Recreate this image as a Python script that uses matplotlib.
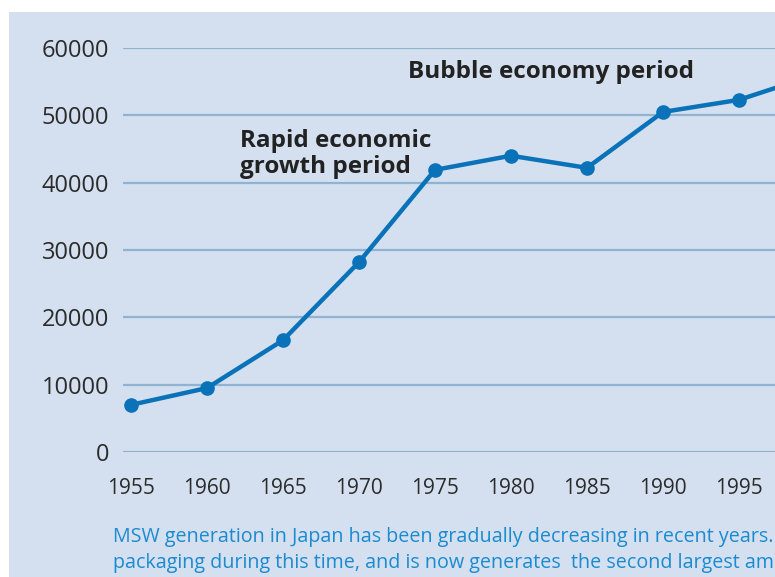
# ____________________________________________________________
# import modules

import matplotlib.pyplot as plt
from matplotlib.patches import Rectangle


# ____________________________________________________________
# data

years = [1955, 1960, 1965, 1970, 1975, 1980, 1985, 1990, 1995, 2000]
msw = [7000, 9500, 16600, 28200, 41900, 44000, 42200, 50500, 52300, 56000]
yticks = [0, 10000, 20000, 30000, 40000, 50000, 60000]
xticks = [1955, 1960, 1965, 1970, 1975, 1980, 1985, 1990, 1995]

caption = ["MSW generation in Japan has been gradually decreasing in recent years.",
           "packaging during this time, and is now generates  the second largest amount"]

BG = '#d4e0ef'
LINE = '#0a72b8'
GRID = '#8fb3d0'
TXT = '#2b2b2b'


# ____________________________________________________________
# figure

plt.rcParams['font.family'] = ['Open Sans', 'DejaVu Sans']

fig = plt.figure(figsize=(7.75, 5.77), dpi=100)
fig.patch.set_facecolor('white')
fig.patches.append(Rectangle((9 / 775, 0), 1, 1 - 12 / 577, transform=fig.transFigure,
                             facecolor=BG, edgecolor='none', zorder=-10))

# axes: left edge at x=123px, right edge at figure edge, y from 452px (0) to 48px (60000)
ax = fig.add_axes([123 / 775, 1 - 452 / 577, 1 - 123 / 775, (452 - 48) / 577])
ax.set_facecolor('none')
px_per_year = (739 - 131) / 40
ax.set_xlim(1955 - 8 / px_per_year, 1955 + (775 - 131) / px_per_year)
ax.set_ylim(0, 60000)

for v in yticks:
    ax.axhline(v, color=GRID, lw=1.6, zorder=1)

ax.plot(years, msw, color=LINE, lw=3.2, marker='o', ms=9.5, zorder=3, clip_on=False)

for s in ax.spines.values():
    s.set_visible(False)
ax.set_yticks(yticks)
ax.set_yticklabels([str(v) for v in yticks])
ax.set_xticks(xticks)
ax.set_xticklabels([str(v) for v in xticks])
ax.tick_params(axis='y', length=0, pad=10, labelsize=17, labelcolor=TXT)
ax.tick_params(axis='x', length=0, pad=19, labelsize=15, labelcolor=TXT)


# ____________________________________________________________
# annotations

ax.text(1973.2, 56400, 'Bubble economy period', fontsize=17.5, fontweight='bold',
        color='#222222', va='center', ha='left')
ax.text(1962.2, 44300, 'Rapid economic\ngrowth period', fontsize=17.5, fontweight='bold',
        color='#222222', va='center', ha='left', linespacing=1.1)

fig.text(113 / 775, 1 - 537 / 577, caption[0], fontsize=14.2, color='#1b8bd0',
         va='center', ha='left')
fig.text(113 / 775, 1 - 563 / 577, caption[1], fontsize=14.2, color='#1b8bd0',
         va='center', ha='left')

fig.savefig('out.png', dpi=100, facecolor=fig.get_facecolor())
